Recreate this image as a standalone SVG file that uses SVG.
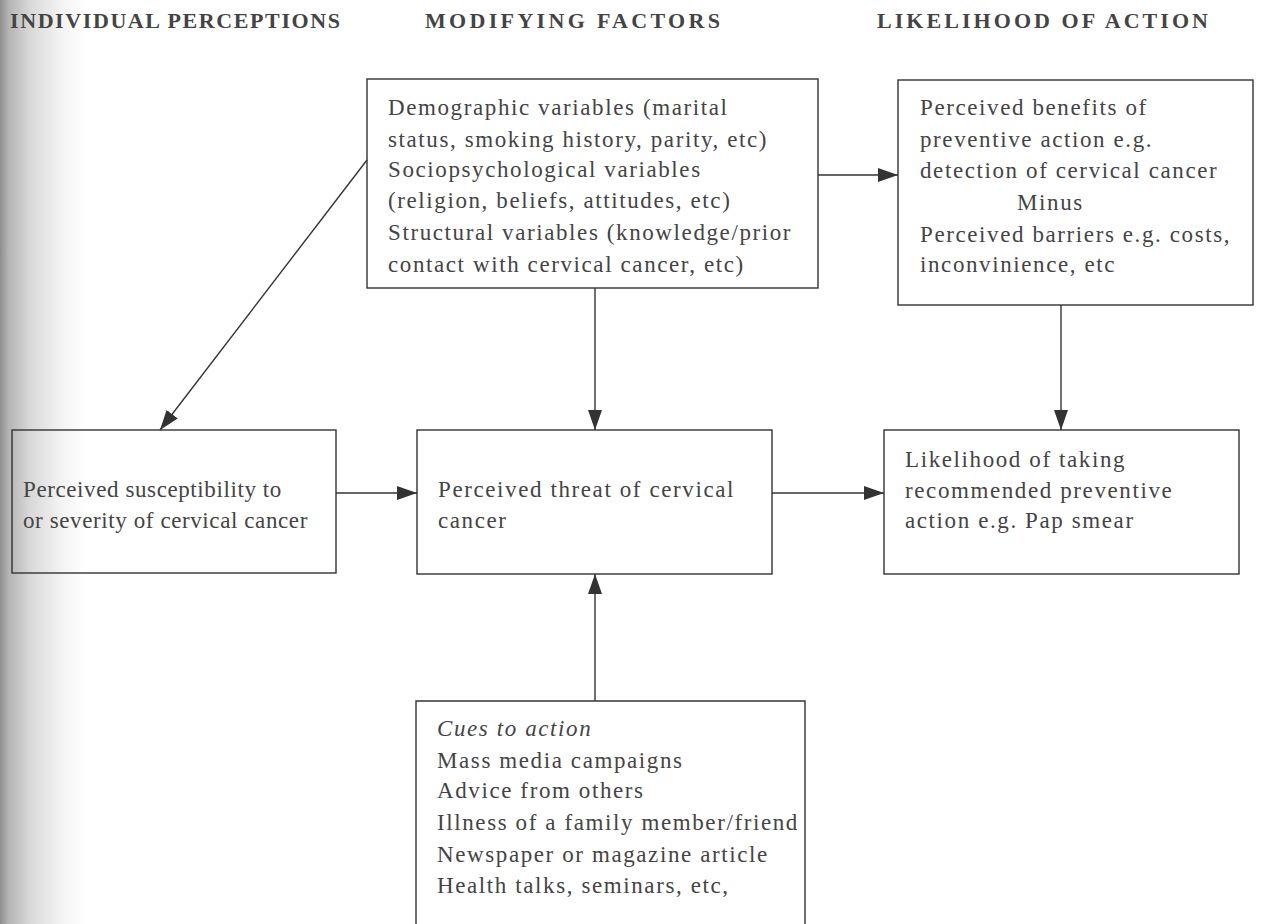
<svg xmlns="http://www.w3.org/2000/svg" width="1261" height="924" viewBox="0 0 1261 924">
<style>
.box{fill:none;stroke:#333;stroke-width:1.4}
.t{font-family:"Liberation Serif","Times New Roman",serif;font-size:23px;fill:#444;letter-spacing:1.6px}
.ts{font-family:"Liberation Serif","Times New Roman",serif;font-size:23px;fill:#444;letter-spacing:0.6px}
.h{font-family:"Liberation Serif","Times New Roman",serif;font-size:22px;font-weight:bold;fill:#444}
.c{stroke:#333;stroke-width:1.4;fill:none;marker-end:url(#ah)}
</style>
<defs>
<marker id="ah" markerUnits="userSpaceOnUse" markerWidth="20" markerHeight="16" refX="20" refY="8" orient="auto">
<path d="M0,1 L20,8 L0,15 z" fill="#333"/>
</marker>
<linearGradient id="shade" x1="0" y1="0" x2="1" y2="0">
<stop offset="0" stop-color="#8e8e8e"/>
<stop offset="0.1" stop-color="#b4b4b4"/>
<stop offset="0.35" stop-color="#d8d8d8"/>
<stop offset="0.7" stop-color="#f2f2f2"/>
<stop offset="1" stop-color="#ffffff"/>
</linearGradient>
</defs>
<rect x="0" y="0" width="1261" height="924" fill="#ffffff"/>
<rect x="0" y="0" width="85" height="924" fill="url(#shade)"/>

<g id="headers">
<text class="h" x="10" y="28" textLength="330" lengthAdjust="spacing">INDIVIDUAL PERCEPTIONS</text>
<text class="h" x="425" y="28" textLength="295" lengthAdjust="spacing">MODIFYING FACTORS</text>
<text class="h" x="877" y="28" textLength="331" lengthAdjust="spacing">LIKELIHOOD OF ACTION</text>
</g>

<g id="modifying-factors">
<rect class="box" x="367" y="79" width="451" height="209"/>
<text class="t" x="388" y="115">Demographic variables (marital</text>
<text class="t" x="388" y="147">status, smoking history, parity, etc)</text>
<text class="t" x="388" y="177">Sociopsychological variables</text>
<text class="t" x="388" y="208">(religion, beliefs, attitudes, etc)</text>
<text class="t" x="388" y="240">Structural variables (knowledge/prior</text>
<text class="t" x="388" y="272">contact with cervical cancer, etc)</text>
</g>

<g id="benefits-barriers">
<rect class="box" x="898" y="80" width="355" height="225"/>
<text class="t" x="920" y="115">Perceived benefits of</text>
<text class="t" x="920" y="147">preventive action e.g.</text>
<text class="t" x="920" y="178">detection of cervical cancer</text>
<text class="t" x="1017" y="210">Minus</text>
<text class="t" x="920" y="242">Perceived barriers e.g. costs,</text>
<text class="t" x="920" y="272">inconvinience, etc</text>
</g>

<g id="susceptibility">
<rect class="box" x="12" y="430" width="324" height="143"/>
<text class="ts" x="23" y="497">Perceived susceptibility to</text>
<text class="ts" x="23" y="528">or severity of cervical cancer</text>
</g>

<g id="threat">
<rect class="box" x="417" y="430" width="355" height="144"/>
<text class="t" x="438" y="497">Perceived threat of cervical</text>
<text class="t" x="438" y="528">cancer</text>
</g>

<g id="likelihood">
<rect class="box" x="884" y="430" width="355" height="144"/>
<text class="t" x="905" y="467">Likelihood of taking</text>
<text class="t" x="905" y="498">recommended preventive</text>
<text class="t" x="905" y="528">action e.g. Pap smear</text>
</g>

<g id="cues">
<path class="box" d="M416,924 V701 H805 V924"/>
<text class="t" x="437" y="736" font-style="italic">Cues to action</text>
<text class="t" x="437" y="768">Mass media campaigns</text>
<text class="t" x="437" y="798">Advice from others</text>
<text class="t" x="437" y="830">Illness of a family member/friend</text>
<text class="t" x="437" y="862">Newspaper or magazine article</text>
<text class="t" x="437" y="893">Health talks, seminars, etc,</text>
</g>

<g id="connectors">
<line class="c" x1="367" y1="160" x2="160" y2="430"/>
<line class="c" x1="818" y1="175" x2="898" y2="175"/>
<line class="c" x1="595" y1="288" x2="595" y2="430"/>
<line class="c" x1="1061" y1="305" x2="1061" y2="430"/>
<line class="c" x1="336" y1="493" x2="417" y2="493"/>
<line class="c" x1="772" y1="493" x2="884" y2="493"/>
<line class="c" x1="595" y1="701" x2="595" y2="574"/>
</g>
</svg>
